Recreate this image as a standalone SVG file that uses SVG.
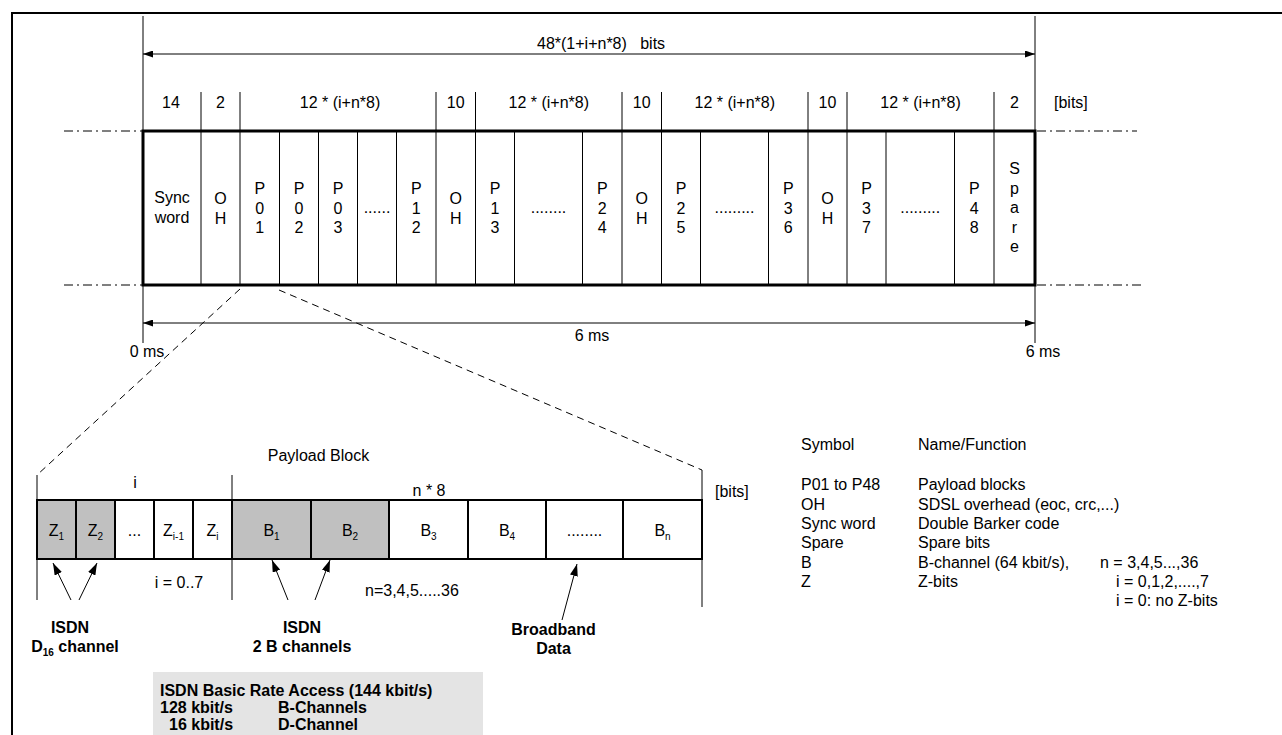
<svg xmlns="http://www.w3.org/2000/svg" width="1282" height="735" viewBox="0 0 1282 735">
<style>
text{font-family:"Liberation Sans",Arial,sans-serif;font-size:16px;fill:#000}
.c{text-anchor:middle}
.b{font-weight:bold}
.sub{font-size:10px}
.thin{stroke:#000;stroke-width:1;fill:none}
.frame{stroke:#000;stroke-width:3;fill:none}
.blk{stroke:#000;stroke-width:2}
.dd{stroke:#000;stroke-width:1;stroke-dasharray:9,4,2,4;fill:none}
.dash{stroke:#000;stroke-width:1;stroke-dasharray:7,5;fill:none}
.gray{fill:#c0c0c0}
.white{fill:#fff}
</style>
<defs>
<marker id="ah" viewBox="0 0 10 7" refX="10" refY="3.5" markerWidth="10" markerHeight="7" markerUnits="userSpaceOnUse" orient="auto-start-reverse"><path d="M0,0 L10,3.5 L0,7 z" fill="#000"/></marker>
<marker id="ah2" viewBox="0 0 12 8" refX="12" refY="4" markerWidth="12" markerHeight="8" markerUnits="userSpaceOnUse" orient="auto"><path d="M0,0 L12,4 L0,8 z" fill="#000"/></marker>
</defs>
<rect width="1282" height="735" fill="#fff"/>
<path d="M12,736 V13 H1283" fill="none" stroke="#000" stroke-width="2"/>

<g id="connectors">
  <line class="thin" x1="143" y1="16" x2="143" y2="343"/>
  <line class="thin" x1="1035" y1="16" x2="1035" y2="343"/>
  <line class="thin" x1="143" y1="54" x2="1035" y2="54" marker-start="url(#ah)" marker-end="url(#ah)"/>
  <line class="thin" x1="143" y1="323" x2="1035" y2="323" marker-start="url(#ah)" marker-end="url(#ah)"/>
  <g class="thin">
    <line x1="201" y1="92" x2="201" y2="131"/>
    <line x1="240" y1="92" x2="240" y2="131"/>
    <line x1="436" y1="92" x2="436" y2="131"/>
    <line x1="475.5" y1="92" x2="475.5" y2="131"/>
    <line x1="622" y1="92" x2="622" y2="131"/>
    <line x1="661.5" y1="92" x2="661.5" y2="131"/>
    <line x1="808" y1="92" x2="808" y2="131"/>
    <line x1="847" y1="92" x2="847" y2="131"/>
    <line x1="994" y1="92" x2="994" y2="131"/>
  </g>
  <line class="dd" x1="64" y1="131" x2="143" y2="131"/>
  <line class="dd" x1="64" y1="285" x2="143" y2="285"/>
  <line class="dd" x1="1037" y1="131" x2="1137" y2="131"/>
  <line class="dd" x1="1037" y1="285" x2="1141" y2="285"/>
  <line class="dash" x1="240" y1="289" x2="37" y2="475"/>
  <line class="dash" x1="279" y1="290" x2="702" y2="470"/>
  <line class="thin" x1="37" y1="475" x2="37" y2="600"/>
  <line class="thin" x1="232" y1="475" x2="232" y2="600"/>
  <line class="thin" x1="702" y1="470" x2="702" y2="607"/>
  <line class="thin" x1="71" y1="600" x2="53" y2="563" marker-end="url(#ah2)"/>
  <line class="thin" x1="79" y1="600" x2="97" y2="563" marker-end="url(#ah2)"/>
  <line class="thin" x1="288" y1="600" x2="272" y2="560" marker-end="url(#ah2)"/>
  <line class="thin" x1="315" y1="600" x2="330" y2="560" marker-end="url(#ah2)"/>
  <line class="thin" x1="562" y1="620" x2="577" y2="564" marker-end="url(#ah2)"/>
</g>

<g id="labels-top">
  <text x="537" y="49" style="white-space:pre">48*(1+i+n*8)   bits</text>
  <text class="c" x="171" y="108">14</text>
  <text class="c" x="220.5" y="108">2</text>
  <text class="c" x="340" y="108">12 * (i+n*8)</text>
  <text class="c" x="455.75" y="108">10</text>
  <text class="c" x="548.75" y="108">12 * (i+n*8)</text>
  <text class="c" x="641.75" y="108">10</text>
  <text class="c" x="734.75" y="108">12 * (i+n*8)</text>
  <text class="c" x="827.5" y="108">10</text>
  <text class="c" x="920.5" y="108">12 * (i+n*8)</text>
  <text class="c" x="1014.5" y="108">2</text>
  <text x="1054" y="108">[bits]</text>
  <text class="c" x="592" y="341">6 ms</text>
  <text class="c" x="147" y="357">0 ms</text>
  <text class="c" x="1043" y="357">6 ms</text>
</g>

<g id="frame">
  <rect class="frame" x="143" y="131" width="892" height="154"/>
  <g class="thin">
    <line x1="201" y1="131" x2="201" y2="285"/>
    <line x1="240" y1="131" x2="240" y2="285"/>
    <line x1="279.5" y1="131" x2="279.5" y2="285"/>
    <line x1="318.5" y1="131" x2="318.5" y2="285"/>
    <line x1="357.5" y1="131" x2="357.5" y2="285"/>
    <line x1="396.5" y1="131" x2="396.5" y2="285"/>
    <line x1="436" y1="131" x2="436" y2="285"/>
    <line x1="475.5" y1="131" x2="475.5" y2="285"/>
    <line x1="514.5" y1="131" x2="514.5" y2="285"/>
    <line x1="582.5" y1="131" x2="582.5" y2="285"/>
    <line x1="622" y1="131" x2="622" y2="285"/>
    <line x1="661.5" y1="131" x2="661.5" y2="285"/>
    <line x1="700.5" y1="131" x2="700.5" y2="285"/>
    <line x1="768.5" y1="131" x2="768.5" y2="285"/>
    <line x1="808" y1="131" x2="808" y2="285"/>
    <line x1="847" y1="131" x2="847" y2="285"/>
    <line x1="886" y1="131" x2="886" y2="285"/>
    <line x1="954.5" y1="131" x2="954.5" y2="285"/>
    <line x1="994" y1="131" x2="994" y2="285"/>
  </g>
</g>
<g id="cell-sync"><text class="c" x="172" y="203">Sync<tspan x="172" dy="20">word</tspan></text></g>
<g id="cell-oh1"><text class="c" x="220.5" y="204">O<tspan x="220.5" dy="19.5">H</tspan></text></g>
<g id="cell-p01"><text class="c" x="259.75" y="194">P<tspan x="259.75" dy="19.5">0</tspan><tspan x="259.75" dy="19.5">1</tspan></text></g>
<g id="cell-p02"><text class="c" x="299" y="194">P<tspan x="299" dy="19.5">0</tspan><tspan x="299" dy="19.5">2</tspan></text></g>
<g id="cell-p03"><text class="c" x="338" y="194">P<tspan x="338" dy="19.5">0</tspan><tspan x="338" dy="19.5">3</tspan></text></g>
<g id="cell-dots1"><text class="c" x="377" y="213">......</text></g>
<g id="cell-p12"><text class="c" x="416.25" y="194">P<tspan x="416.25" dy="19.5">1</tspan><tspan x="416.25" dy="19.5">2</tspan></text></g>
<g id="cell-oh2"><text class="c" x="455.75" y="204">O<tspan x="455.75" dy="19.5">H</tspan></text></g>
<g id="cell-p13"><text class="c" x="495" y="194">P<tspan x="495" dy="19.5">1</tspan><tspan x="495" dy="19.5">3</tspan></text></g>
<g id="cell-dots2"><text class="c" x="548.5" y="213">........</text></g>
<g id="cell-p24"><text class="c" x="602.25" y="194">P<tspan x="602.25" dy="19.5">2</tspan><tspan x="602.25" dy="19.5">4</tspan></text></g>
<g id="cell-oh3"><text class="c" x="641.75" y="204">O<tspan x="641.75" dy="19.5">H</tspan></text></g>
<g id="cell-p25"><text class="c" x="681" y="194">P<tspan x="681" dy="19.5">2</tspan><tspan x="681" dy="19.5">5</tspan></text></g>
<g id="cell-dots3"><text class="c" x="734.5" y="213">.........</text></g>
<g id="cell-p36"><text class="c" x="788.25" y="194">P<tspan x="788.25" dy="19.5">3</tspan><tspan x="788.25" dy="19.5">6</tspan></text></g>
<g id="cell-oh4"><text class="c" x="827.5" y="204">O<tspan x="827.5" dy="19.5">H</tspan></text></g>
<g id="cell-p37"><text class="c" x="866.5" y="194">P<tspan x="866.5" dy="19.5">3</tspan><tspan x="866.5" dy="19.5">7</tspan></text></g>
<g id="cell-dots4"><text class="c" x="920.25" y="213">.........</text></g>
<g id="cell-p48"><text class="c" x="974.25" y="194">P<tspan x="974.25" dy="19.5">4</tspan><tspan x="974.25" dy="19.5">8</tspan></text></g>
<g id="cell-spare"><text class="c" x="1014.5" y="174">S<tspan x="1014.5" dy="19.5">p</tspan><tspan x="1014.5" dy="19.5">a</tspan><tspan x="1014.5" dy="19.5">r</tspan><tspan x="1014.5" dy="19.5">e</tspan></text></g>

<g id="payload-block">
  <text class="c" x="318.5" y="461">Payload Block</text>
  <text class="c" x="135" y="488">i</text>
  <text class="c" x="429" y="496">n * 8</text>
  <text x="715" y="497">[bits]</text>
  <g class="blk">
    <rect class="gray" x="37" y="500" width="39" height="59"/>
    <rect class="gray" x="76" y="500" width="39" height="59"/>
    <rect class="white" x="115" y="500" width="39" height="59"/>
    <rect class="white" x="154" y="500" width="39" height="59"/>
    <rect class="white" x="193" y="500" width="39" height="59"/>
    <rect class="gray" x="232" y="500" width="79" height="59"/>
    <rect class="gray" x="311" y="500" width="78" height="59"/>
    <rect class="white" x="389" y="500" width="79" height="59"/>
    <rect class="white" x="468" y="500" width="78" height="59"/>
    <rect class="white" x="546" y="500" width="77" height="59"/>
    <rect class="white" x="623" y="500" width="79" height="59"/>
  </g>
  <text class="c" x="56.5" y="536">Z<tspan class="sub" dy="4">1</tspan></text>
  <text class="c" x="95.5" y="536">Z<tspan class="sub" dy="4">2</tspan></text>
  <text class="c" x="134.5" y="536">...</text>
  <text class="c" x="173.5" y="536">Z<tspan class="sub" dy="4">i-1</tspan></text>
  <text class="c" x="212.5" y="536">Z<tspan class="sub" dy="4">i</tspan></text>
  <text class="c" x="271.5" y="536">B<tspan class="sub" dy="4">1</tspan></text>
  <text class="c" x="350" y="536">B<tspan class="sub" dy="4">2</tspan></text>
  <text class="c" x="428.5" y="536">B<tspan class="sub" dy="4">3</tspan></text>
  <text class="c" x="507" y="536">B<tspan class="sub" dy="4">4</tspan></text>
  <text class="c" x="584.5" y="536">........</text>
  <text class="c" x="662.5" y="536">B<tspan class="sub" dy="4">n</tspan></text>
  <text class="c" x="179" y="588">i = 0..7</text>
  <text x="365" y="596">n=3,4,5.....36</text>
</g>

<g id="label-d16">
  <text class="c b" x="70" y="633">ISDN</text>
  <text class="c b" x="75" y="652">D<tspan class="sub" dy="4">16</tspan><tspan dy="-4"> channel</tspan></text>
</g>
<g id="label-2b">
  <text class="c b" x="302" y="633">ISDN</text>
  <text class="c b" x="302" y="652">2 B channels</text>
</g>
<g id="label-broadband">
  <text class="c b" x="553.5" y="635">Broadband</text>
  <text class="c b" x="553.5" y="654">Data</text>
</g>

<g id="isdn-box">
  <rect x="153" y="672" width="330" height="70" fill="#e4e4e4"/>
  <text class="b" x="160" y="696">ISDN Basic Rate Access (144 kbit/s)</text>
  <text class="b" x="160" y="713">128 kbit/s</text>
  <text class="b" x="278" y="713">B-Channels</text>
  <text class="b" x="169" y="730">16 kbit/s</text>
  <text class="b" x="278" y="730">D-Channel</text>
</g>

<g id="legend">
  <text x="801" y="450">Symbol</text>
  <text x="918" y="450">Name/Function</text>
  <text x="801" y="490">P01 to P48</text>
  <text x="918" y="490">Payload blocks</text>
  <text x="801" y="510">OH</text>
  <text x="918" y="510">SDSL overhead (eoc, crc,...)</text>
  <text x="801" y="529">Sync word</text>
  <text x="918" y="529">Double Barker code</text>
  <text x="801" y="548">Spare</text>
  <text x="918" y="548">Spare bits</text>
  <text x="801" y="568">B</text>
  <text x="918" y="568">B-channel (64 kbit/s),</text>
  <text x="1100" y="568">n = 3,4,5...,36</text>
  <text x="801" y="587">Z</text>
  <text x="918" y="587">Z-bits</text>
  <text x="1116" y="587">i = 0,1,2,....,7</text>
  <text x="1116" y="606">i = 0: no Z-bits</text>
</g>
</svg>
